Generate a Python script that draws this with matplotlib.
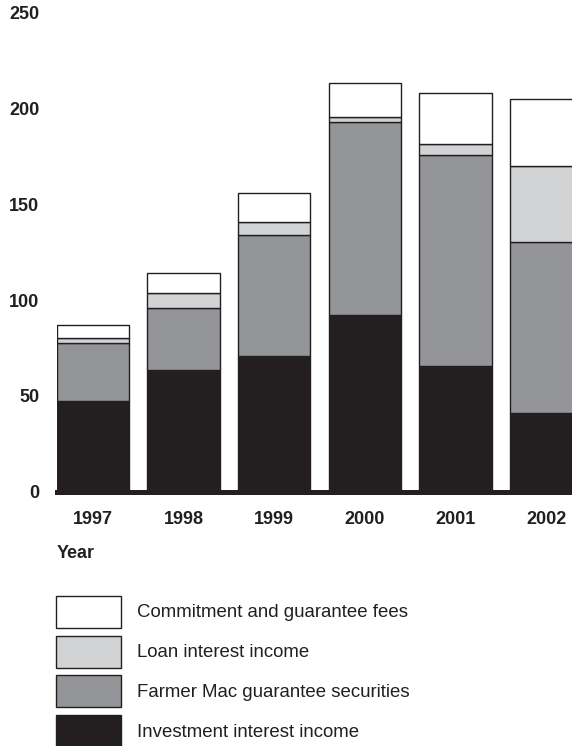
import matplotlib
matplotlib.use("Agg")
import matplotlib.pyplot as plt
import numpy as np
from matplotlib.patches import Patch

plt.rcParams['font.family'] = ['Liberation Sans', 'DejaVu Sans']

years = ['1997', '1998', '1999', '2000', '2001', '2002']
investment = [47.5, 63.5, 70.8, 92.2, 65.6, 40.9]
farmer_mac = [30.1, 32.4, 63.0, 100.6, 110.0, 89.6]
loan_interest = [2.8, 7.6, 6.8, 2.9, 5.9, 39.6]
commitment = [6.6, 10.5, 15.1, 17.6, 26.7, 35.0]
series_names = ['Investment interest income', 'Farmer Mac guarantee securities',
                'Loan interest income', 'Commitment and guarantee fees']
y_ticks = [0, 50, 100, 150, 200, 250]

ink = '#231f20'
colors = [ink, '#939598', '#d1d3d4', '#ffffff']

fig = plt.figure(figsize=(5.72, 7.46), dpi=100)
ax = fig.add_axes([56.7 / 572, 1 - 491.7 / 746, 1 - 56.7 / 572, (491.7 - 12.7) / 746])

x = np.arange(len(years))
bottom = np.zeros(len(years))
for vals, c in zip([investment, farmer_mac, loan_interest, commitment], colors):
    ax.bar(x, vals, width=0.8, bottom=bottom, color=c, edgecolor=ink, linewidth=1.0, zorder=2)
    bottom += np.array(vals)

ax.set_xlim(-0.4, 5.285)
ax.set_ylim(0, 250)
ax.set_yticks(y_ticks)
ax.set_yticklabels([str(v) for v in y_ticks], fontsize=13, fontweight='bold', color=ink)
ax.set_xticks(x)
ax.set_xticklabels(years, fontsize=13, fontweight='bold', color=ink)
ax.tick_params(axis='y', length=0, pad=12.5)
ax.tick_params(axis='x', length=0, pad=14)
for s in ['top', 'right', 'left']:
    ax.spines[s].set_visible(False)
ax.spines['bottom'].set_linewidth(3.6)
ax.spines['bottom'].set_color(ink)
ax.spines['bottom'].set_zorder(3)

fig.text(57 / 572, 1 - 553 / 746, 'Year', fontsize=13, fontweight='bold', color=ink, va='center', ha='left')

handles = [Patch(facecolor=c, edgecolor=ink, linewidth=1.0, label=n)
           for c, n in zip(colors, series_names)][::-1]
leg = fig.legend(handles=handles, loc='upper left', bbox_to_anchor=(56 / 572, 1 - 595.7 / 746),
                 frameon=False, fontsize=13.4, handlelength=3.49, handleheight=2.27,
                 handletextpad=0.86, labelspacing=0.42, borderpad=0, borderaxespad=0)
for t in leg.get_texts():
    t.set_color(ink)

fig.savefig('out.png', dpi=100)
